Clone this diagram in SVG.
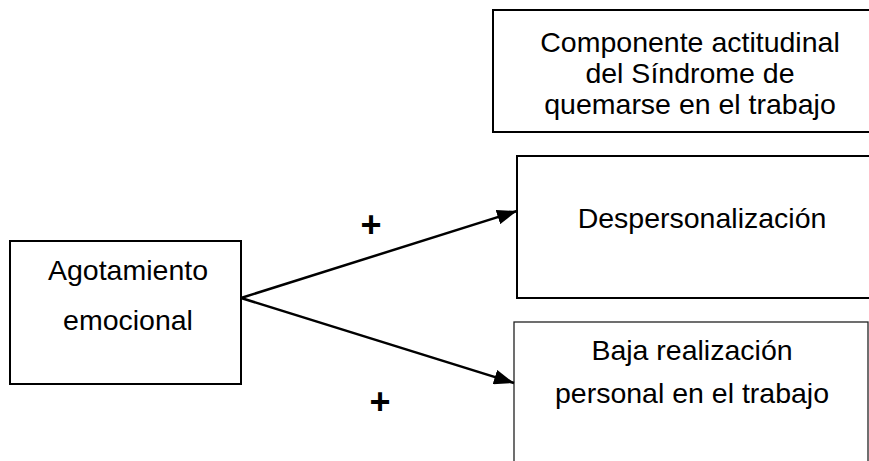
<svg xmlns="http://www.w3.org/2000/svg" width="869" height="461" viewBox="0 0 869 461">
<style>
.box{fill:#fff;stroke:#000;stroke-width:2}
.t{font-family:"Liberation Sans",Arial,sans-serif;font-size:28.5px;fill:#000;text-anchor:middle}
.plus{font-family:"Liberation Sans",Arial,sans-serif;font-size:36px;font-weight:bold;fill:#000;text-anchor:middle}
.edge{stroke:#000;stroke-width:2.5;fill:none;marker-end:url(#ah)}
</style>
<defs>
<marker id="ah" markerWidth="8" markerHeight="6" refX="8" refY="3" orient="auto" markerUnits="strokeWidth">
<path d="M0,0 L8,3 L0,6 Z" fill="#000"/>
</marker>
</defs>
<rect width="869" height="461" fill="#fff"/>
<g id="componente">
<rect class="box" x="493" y="10" width="380" height="122"/>
<text class="t" x="690" y="52">Componente actitudinal</text>
<text class="t" x="690" y="83">del Síndrome de</text>
<text class="t" x="690" y="114">quemarse en el trabajo</text>
</g>
<g id="agotamiento">
<rect class="box" x="10" y="241" width="231" height="143"/>
<text class="t" x="128" y="280">Agotamiento</text>
<text class="t" x="128" y="330">emocional</text>
</g>
<g id="despersonalizacion">
<rect class="box" x="517" y="156" width="360" height="142"/>
<text class="t" x="702" y="228">Despersonalización</text>
</g>
<g id="baja">
<rect x="514" y="322" width="354" height="150" fill="#fff" stroke="#222" stroke-width="1.3"/>
<text class="t" x="692" y="360">Baja realización</text>
<text class="t" x="692" y="403">personal en el trabajo</text>
</g>
<g id="connectors">
<line class="edge" x1="241" y1="298" x2="517" y2="211"/>
<line class="edge" x1="241" y1="298" x2="514" y2="383"/>
<text class="plus" x="371" y="237">+</text>
<text class="plus" x="380" y="414">+</text>
</g>
</svg>
